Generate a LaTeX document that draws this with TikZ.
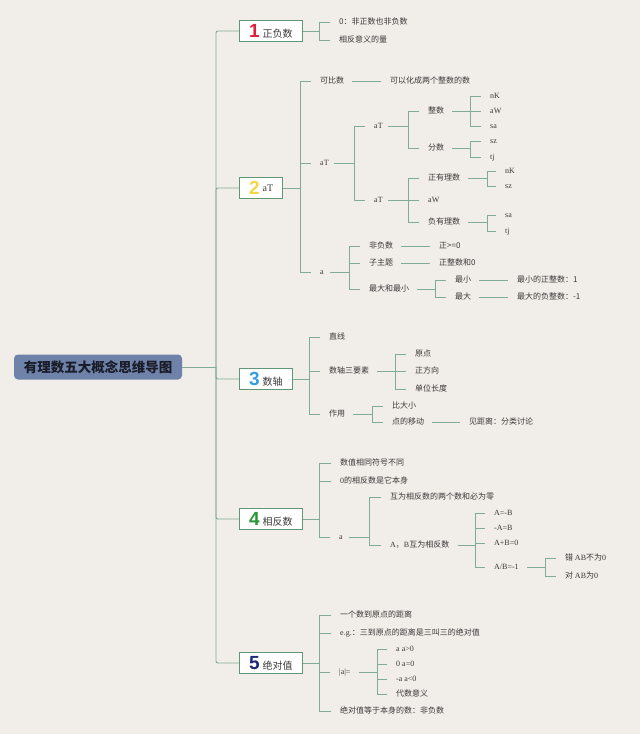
\documentclass[tikz,border=0pt]{standalone}
\usepackage{fontspec}
\setmainfont{Liberation Serif}
\newfontfamily\cjk{Noto Sans CJK SC}
\newfontfamily\numf{Liberation Sans}
\definecolor{bg}{RGB}{241,237,232}
\definecolor{lc}{RGB}{128,172,148}
\definecolor{bc}{RGB}{96,150,118}
\definecolor{tc}{RGB}{58,58,58}
\definecolor{rootc}{RGB}{110,130,170}
\definecolor{rootT}{RGB}{26,28,40}
\definecolor{n1}{RGB}{224,32,58}
\definecolor{n2}{RGB}{245,213,71}
\definecolor{n3}{RGB}{52,160,224}
\definecolor{n4}{RGB}{40,150,55}
\definecolor{n5}{RGB}{30,40,120}
\newcommand\branch[4][8pt]{%
  \coordinate (j#2) at (#3,0 |- #2.east);
  \draw[conn] ([xshift=#1]#2.east) -- (j#2);
  \foreach \c in {#4}{\draw[conn] (j#2) |- ([xshift=-9pt]\c.west);}%
}
\newcommand\boxlabel[3]{{\numf\bfseries\fontsize{19}{19}\selectfont\textcolor{#1}{#2}}\hspace{3pt}#3}
\begin{document}
\begin{tikzpicture}[x=1pt,y=-1pt,
  conn/.style={draw=lc,line width=0.9pt},
  t/.style={anchor=west,inner sep=0pt,text=tc,font=\cjk\fontsize{8}{9}\selectfont,text height=6pt,text depth=1.5pt},
  tl/.style={t,font=\fontsize{8}{9}\selectfont},
  box/.style={draw=bc,fill=white,line width=1pt,anchor=west,minimum height=21pt,inner xsep=9.5pt,inner ysep=0pt,text=tc}]
\fill[bg] (0,0) rectangle (640,734);
\useasboundingbox (0,0) rectangle (640,734);

% root
\node[fill=rootc,rounded corners=4pt,minimum width=168pt,minimum height=25pt,inner sep=0pt,
  font=\cjk\bfseries\fontsize{13.5}{15}\selectfont,text=rootT] (root) at (98,367) {有理数五大概念思维导图};

% main boxes
\node[box] (b1) at (239,31) {\boxlabel{n1}{1}{{\cjk\fontsize{10}{12}\selectfont 正负数}}};
\node[box] (b2) at (239,188) {\boxlabel{n2}{2}{{\fontsize{10}{12}\selectfont\raisebox{3pt}{aT}}}};
\node[box] (b3) at (239,379) {\boxlabel{n3}{3}{{\cjk\fontsize{10}{12}\selectfont 数轴}}};
\node[box] (b4) at (239,519) {\boxlabel{n4}{4}{{\cjk\fontsize{10}{12}\selectfont 相反数}}};
\node[box] (b5) at (239,663) {\boxlabel{n5}{5}{{\cjk\fontsize{10}{12}\selectfont 绝对值}}};

\coordinate (sp) at (216,367);
\draw[conn] (root.east) -- (sp);
\foreach \b in {b1,b2,b3,b4,b5}{\draw[conn,rounded corners=2pt] (sp) |- (\b.west);}

% ---- 1
\node[t] (c11) at (339,22) {0：非正数也非负数};
\node[t] (c12) at (339,40) {相反意义的量};
\branch[0pt]{b1}{319}{c11,c12}

% ---- 2
\node[t] (kb) at (320,81) {可比数};
\node[t] (kbc) at (390,81) {可以化成两个整数的数};
\node[tl] (at1) at (320,163) {aT};
\node[tl] (at2) at (374,126) {aT};
\node[tl] (at3) at (374,200) {aT};
\node[t] (zs) at (428,111) {整数};
\node[t] (fs) at (428,148) {分数};
\node[tl] (nk1) at (490,96) {nK};
\node[tl] (aw1) at (490,111) {aW};
\node[tl] (sa1) at (490,126) {sa};
\node[tl] (sz1) at (490,141) {sz};
\node[tl] (tj1) at (490,157) {tj};
\node[t] (zyl) at (428,178) {正有理数};
\node[tl] (aw2) at (428,200) {aW};
\node[t] (fyl) at (428,222) {负有理数};
\node[tl] (nk2) at (505,171) {nK};
\node[tl] (sz2) at (505,186) {sz};
\node[tl] (sa2) at (505,215) {sa};
\node[tl] (tj2) at (505,231) {tj};
\node[tl] (a1) at (320,272) {a};
\node[t] (ffs) at (369,246) {非负数};
\node[t] (zzt) at (369,263) {子主题};
\node[t] (zdz) at (369,289) {最大和最小};
\node[t] (zg) at (439,246) {正>=0};
\node[t] (zzs) at (439,263) {正整数和0};
\node[t] (zx) at (455,280) {最小};
\node[t] (zd) at (455,297) {最大};
\node[t] (zxz) at (517,280) {最小的正整数：1};
\node[t] (zdf) at (517,297) {最大的负整数：-1};
\branch[0pt]{b2}{300}{kb,at1,a1}
\branch{kb}{371}{kbc}
\branch[5pt]{at1}{354}{at2,at3}
\branch[5pt]{at2}{408}{zs,fs}
\branch{zs}{470}{nk1,aw1,sa1}
\branch{fs}{470}{sz1,tj1}
\branch[5pt]{at3}{408}{zyl,aw2,fyl}
\branch{zyl}{487}{nk2,sz2}
\branch{fyl}{487}{sa2,tj2}
\branch[6pt]{a1}{349}{ffs,zzt,zdz}
\branch{ffs}{421}{zg}
\branch{zzt}{421}{zzs}
\branch{zdz}{435}{zx,zd}
\branch{zx}{498}{zxz}
\branch{zd}{498}{zdf}

% ---- 3
\node[t] (zx3) at (329,337) {直线};
\node[t] (syz) at (329,371) {数轴三要素};
\node[t] (zy) at (329,414) {作用};
\node[t] (yd) at (415,354) {原点};
\node[t] (zfx) at (415,371) {正方向};
\node[t] (dw) at (415,389) {单位长度};
\node[t] (bdx) at (392,406) {比大小};
\node[t] (ddyd) at (392,422) {点的移动};
\node[t] (jjl) at (469,422) {见距离：分类讨论};
\branch[0pt]{b3}{309}{zx3,syz,zy}
\branch{syz}{395}{yd,zfx,dw}
\branch{zy}{372}{bdx,ddyd}
\branch{ddyd}{451}{jjl}

% ---- 4
\node[t] (sz4) at (340,463) {数值相同符号不同};
\node[t] (xf0) at (340,481) {{\rmfamily 0}的相反数是它本身};
\node[tl] (a4) at (339,537) {a};
\node[t] (hw) at (390,497) {互为相反数的两个数和必为零};
\node[t] (ab) at (390,545) {{\rmfamily A}，{\rmfamily B}互为相反数};
\node[tl] (e1) at (494,513) {A=-B};
\node[tl] (e2) at (494,528) {-A=B};
\node[tl] (e3) at (494,543) {A+B=0};
\node[tl] (e4) at (494,567) {A/B=-1};
\node[t] (cw) at (565,558) {错 {\rmfamily AB}不为{\rmfamily 0}};
\node[t] (dui) at (565,576) {对 {\rmfamily AB}为{\rmfamily 0}};
\branch[0pt]{b4}{319}{sz4,xf0,a4}
\branch[6pt]{a4}{369}{hw,ab}
\branch{ab}{475}{e1,e2,e3,e4}
\branch{e4}{545}{cw,dui}

% ---- 5
\node[t] (yg) at (340,615) {一个数到原点的距离};
\node[t] (eg) at (340,633) {{\rmfamily e.g.}：三到原点的距离是三叫三的绝对值};
\node[tl] (abs) at (339,672) {|a|=};
\node[t] (jdz) at (340,711) {绝对值等于本身的数：非负数};
\node[tl] (r1) at (396,649) {a a>0};
\node[tl] (r2) at (396,664) {0 a=0};
\node[tl] (r3) at (396,679) {-a a<0};
\node[t] (r4) at (396,694) {代数意义};
\branch[0pt]{b5}{319}{yg,eg,abs,jdz}
\branch{abs}{377}{r1,r2,r3,r4}
\end{tikzpicture}
\end{document}
